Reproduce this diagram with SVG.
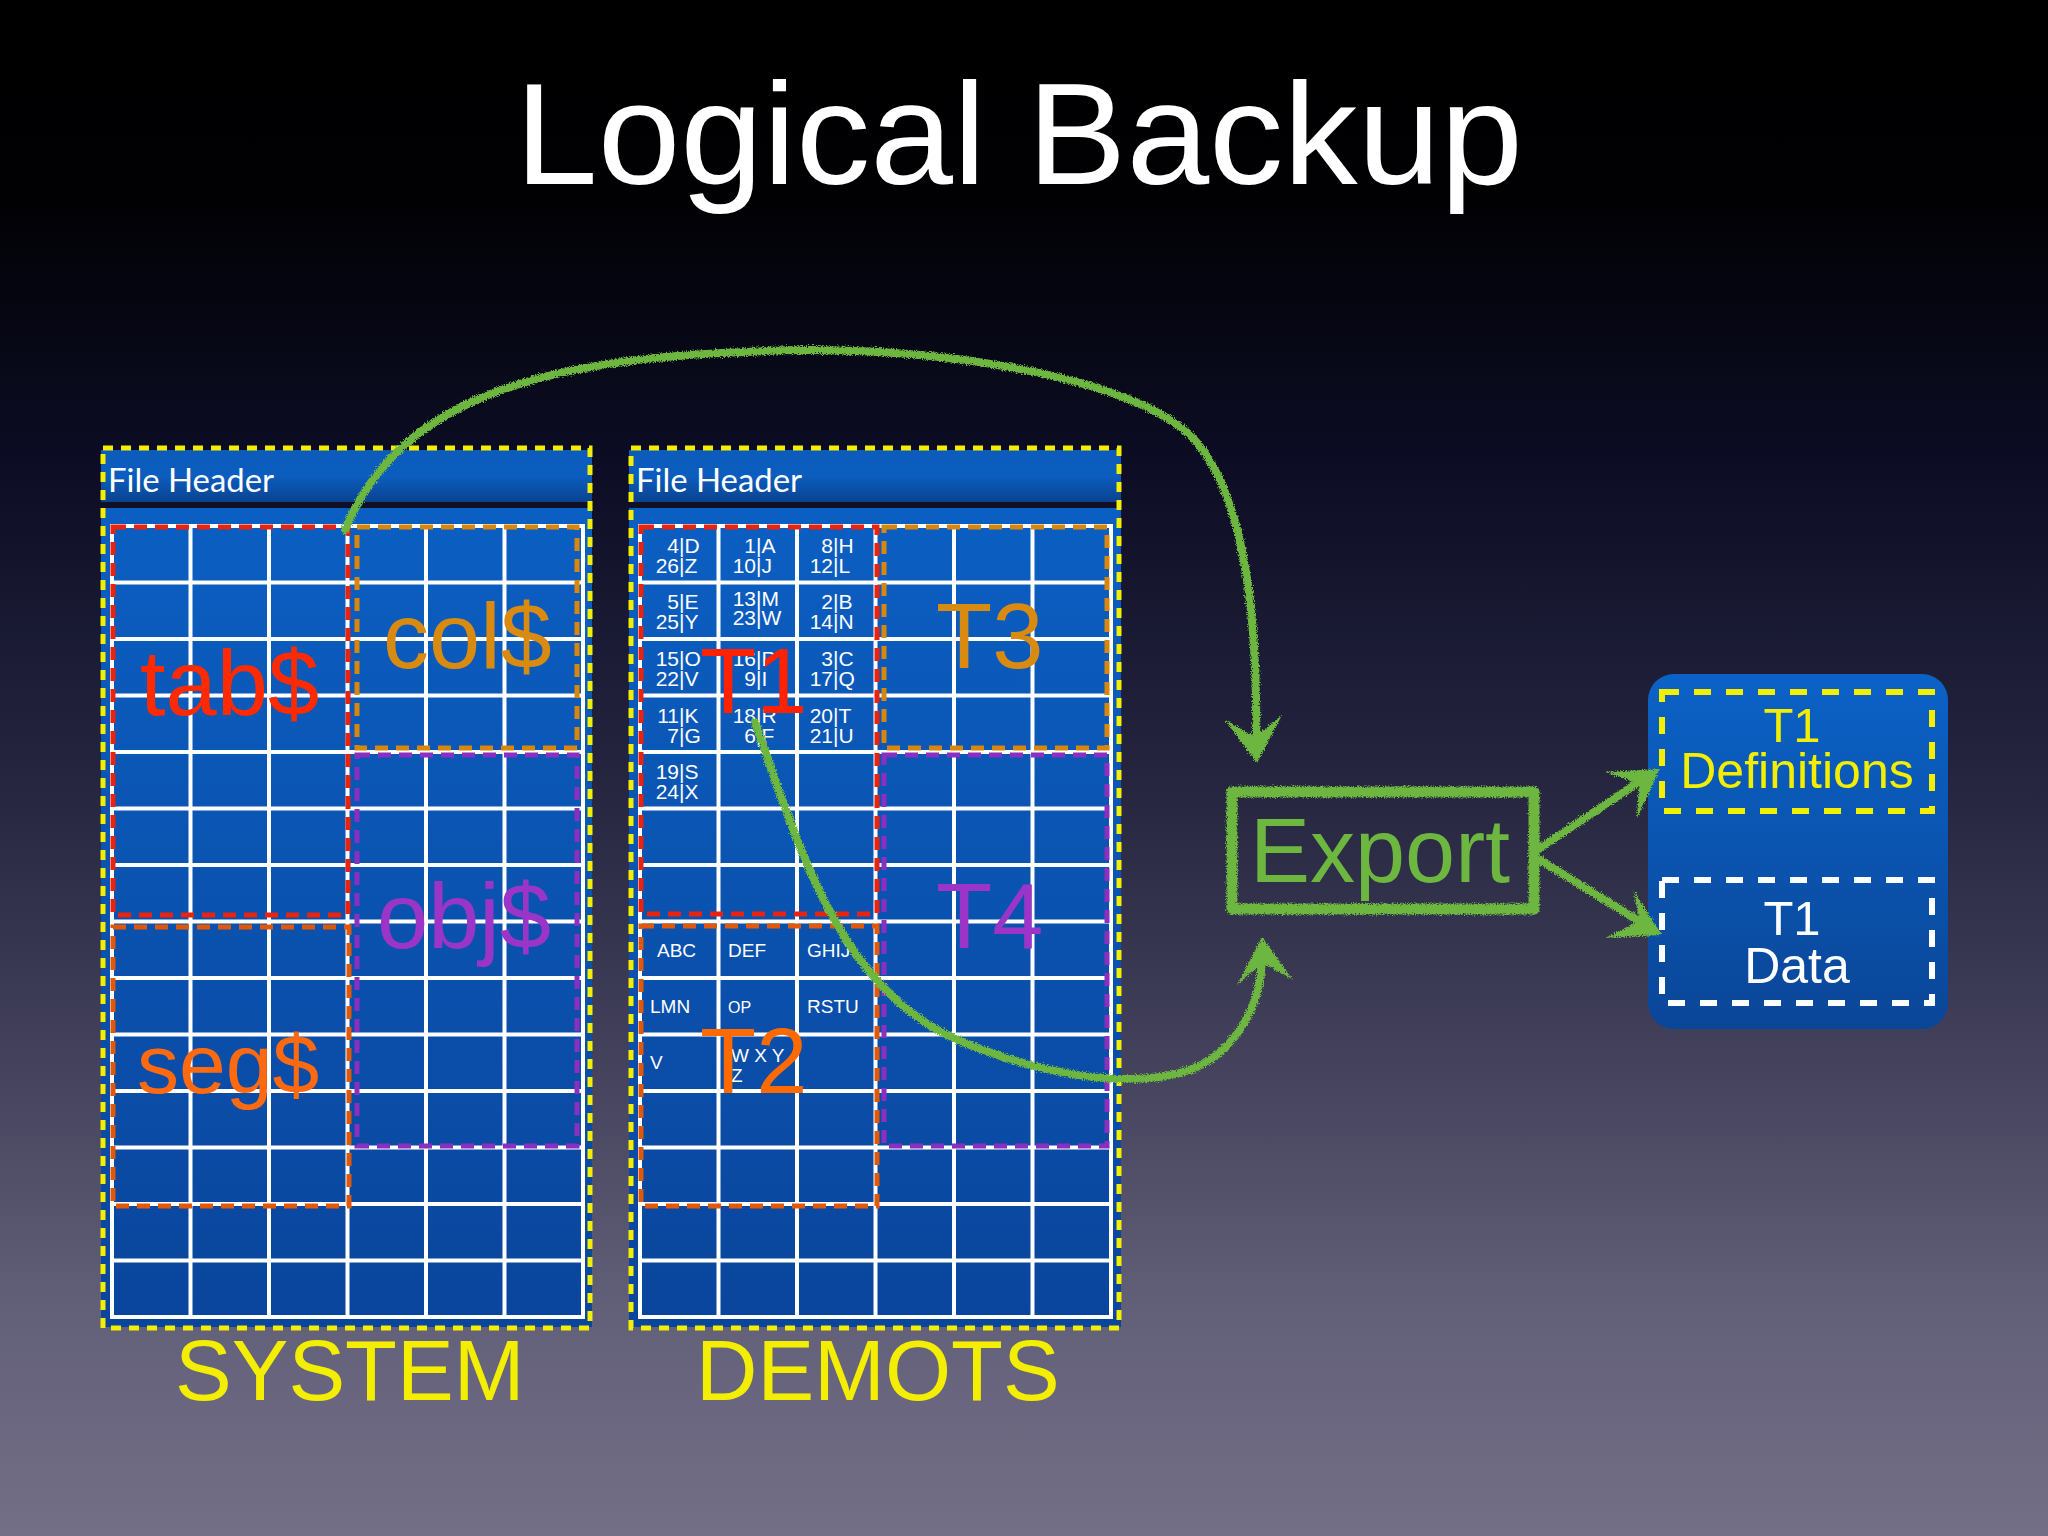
<svg xmlns="http://www.w3.org/2000/svg" width="2048" height="1536" viewBox="0 0 2048 1536">
<defs>
<linearGradient id="bg" x1="0" y1="0" x2="0" y2="1">
<stop offset="0" stop-color="#000000"/>
<stop offset="0.13" stop-color="#010104"/>
<stop offset="0.3" stop-color="#0c0d24"/>
<stop offset="0.5" stop-color="#24243f"/>
<stop offset="0.7" stop-color="#45435d"/>
<stop offset="0.85" stop-color="#625f78"/>
<stop offset="1" stop-color="#736f87"/>
</linearGradient>
<linearGradient id="hdr" x1="0" y1="0" x2="0" y2="1">
<stop offset="0" stop-color="#0b5cba"/>
<stop offset="0.5" stop-color="#0b5dbf"/>
<stop offset="1" stop-color="#0a4390"/>
</linearGradient>
<linearGradient id="body" x1="0" y1="0" x2="0" y2="1">
<stop offset="0" stop-color="#0b5fc2"/>
<stop offset="1" stop-color="#0a459c"/>
</linearGradient>
<linearGradient id="rp" x1="0" y1="0" x2="0" y2="1">
<stop offset="0" stop-color="#0b62c6"/>
<stop offset="1" stop-color="#0a4698"/>
</linearGradient>
<filter id="chalk" filterUnits="userSpaceOnUse" x="0" y="0" width="2048" height="1536">
<feTurbulence type="fractalNoise" baseFrequency="0.9" numOctaves="2" seed="3" result="n"/>
<feDisplacementMap in="SourceGraphic" in2="n" scale="6" xChannelSelector="R" yChannelSelector="G"/>
</filter>
<g id="grid" fill="none" stroke="#ffffff" stroke-width="4">
<rect x="112" y="526" width="471" height="791"/>
<path d="M190.5 526V1317M269 526V1317M347.5 526V1317M426 526V1317M504.5 526V1317
M112 582.5H583M112 639H583M112 695.5H583M112 752H583M112 808.5H583M112 865H583M112 921.5H583M112 978H583M112 1034.5H583M112 1091H583M112 1147.5H583M112 1204H583M112 1260.5H583"/>
</g>
</defs>
<style>
.sans{font-family:"Liberation Sans","Helvetica",Arial,sans-serif}
.hdrtxt{font-family:Lato,"Open Sans",sans-serif;font-size:32px;fill:#ffffff}
.big{font-family:"Liberation Sans",Arial,sans-serif;font-size:92px}
.sm{font-family:"Liberation Sans",Arial,sans-serif;font-size:21px;fill:#ffffff}
.sm2{font-family:"Liberation Sans",Arial,sans-serif;font-size:19px;fill:#ffffff}
.ybord{fill:none;stroke:#f4ee00;stroke-width:5;stroke-dasharray:10 8}
.dbox{fill:none;stroke-width:5;stroke-dasharray:13 8}
.red{stroke:#e8230f}
.org{stroke:#e0580a}
.gold{stroke:#d9860c}
.pur{stroke:#8a2fc0}
.chalk{fill:none;stroke:#6db63f;stroke-width:8;stroke-linecap:round;stroke-linejoin:round;filter:url(#chalk)}
.head{fill:#6db63f;filter:url(#chalk)}
</style>
<rect width="2048" height="1536" fill="url(#bg)"/>

<text class="sans" x="515" y="184" font-size="145" fill="#ffffff" textLength="1008" lengthAdjust="spacingAndGlyphs">Logical Backup</text>

<g id="system">
<rect x="101" y="450" width="491" height="52" fill="url(#hdr)"/>
<rect x="101" y="508" width="491" height="819" fill="url(#body)"/>
<text class="hdrtxt" x="108" y="492" textLength="166" lengthAdjust="spacingAndGlyphs">File Header</text>
<use href="#grid"/>
<rect class="dbox red" x="113" y="527" width="235" height="388"/>
<rect class="dbox org" x="113" y="927" width="236" height="279"/>
<rect class="dbox gold" x="357" y="527" width="220" height="221"/>
<rect class="dbox pur" x="357" y="755" width="220" height="391"/>
<text class="big" x="140" y="715" fill="#ff2a00">tab$</text>
<text class="big" x="383" y="668" fill="#d98a10">col$</text>
<text class="big" x="377" y="948" fill="#9b35c8">obj$</text>
<text class="big" x="137" y="1093" fill="#ff6a10" style="font-size:84px">seg$</text>
<rect class="ybord" x="103" y="448" width="487" height="880"/>
<text class="sans" x="175" y="1400" font-size="85" fill="#f4ee00">SYSTEM</text>
</g>

<g id="demots">
<rect x="629" y="450" width="492" height="52" fill="url(#hdr)"/>
<rect x="629" y="508" width="492" height="819" fill="url(#body)"/>
<text class="hdrtxt" x="636" y="492" textLength="166" lengthAdjust="spacingAndGlyphs">File Header</text>
<use href="#grid" transform="translate(528 0)"/>
<rect class="dbox red" x="641" y="527" width="236" height="387"/>
<rect class="dbox org" x="641" y="926" width="236" height="280"/>
<rect class="dbox gold" x="884" y="527" width="223" height="221"/>
<rect class="dbox pur" x="884" y="755" width="223" height="391"/>
<g id="t1cells">
<text class="sm" y="553"><tspan x="679" text-anchor="end">4</tspan><tspan x="679">|D</tspan></text>
<text class="sm" y="573"><tspan x="679" text-anchor="end">26</tspan><tspan x="679">|Z</tspan></text>
<text class="sm" y="553"><tspan x="756" text-anchor="end">1</tspan><tspan x="756">|A</tspan></text>
<text class="sm" y="573"><tspan x="756" text-anchor="end">10</tspan><tspan x="756">|J</tspan></text>
<text class="sm" y="553"><tspan x="833" text-anchor="end">8</tspan><tspan x="833">|H</tspan></text>
<text class="sm" y="573"><tspan x="833" text-anchor="end">12</tspan><tspan x="833">|L</tspan></text>
<text class="sm" y="609"><tspan x="679" text-anchor="end">5</tspan><tspan x="679">|E</tspan></text>
<text class="sm" y="629"><tspan x="679" text-anchor="end">25</tspan><tspan x="679">|Y</tspan></text>
<text class="sm" y="606"><tspan x="756" text-anchor="end">13</tspan><tspan x="756">|M</tspan></text>
<text class="sm" y="625"><tspan x="756" text-anchor="end">23</tspan><tspan x="756">|W</tspan></text>
<text class="sm" y="609"><tspan x="833" text-anchor="end">2</tspan><tspan x="833">|B</tspan></text>
<text class="sm" y="629"><tspan x="833" text-anchor="end">14</tspan><tspan x="833">|N</tspan></text>
<text class="sm" y="666"><tspan x="679" text-anchor="end">15</tspan><tspan x="679">|O</tspan></text>
<text class="sm" y="686"><tspan x="679" text-anchor="end">22</tspan><tspan x="679">|V</tspan></text>
<text class="sm" y="666"><tspan x="756" text-anchor="end">16</tspan><tspan x="756">|P</tspan></text>
<text class="sm" y="686"><tspan x="756" text-anchor="end">9</tspan><tspan x="756">|I</tspan></text>
<text class="sm" y="666"><tspan x="833" text-anchor="end">3</tspan><tspan x="833">|C</tspan></text>
<text class="sm" y="686"><tspan x="833" text-anchor="end">17</tspan><tspan x="833">|Q</tspan></text>
<text class="sm" y="723"><tspan x="679" text-anchor="end">11</tspan><tspan x="679">|K</tspan></text>
<text class="sm" y="743"><tspan x="679" text-anchor="end">7</tspan><tspan x="679">|G</tspan></text>
<text class="sm" y="723"><tspan x="756" text-anchor="end">18</tspan><tspan x="756">|R</tspan></text>
<text class="sm" y="743"><tspan x="756" text-anchor="end">6</tspan><tspan x="756">|F</tspan></text>
<text class="sm" y="723"><tspan x="833" text-anchor="end">20</tspan><tspan x="833">|T</tspan></text>
<text class="sm" y="743"><tspan x="833" text-anchor="end">21</tspan><tspan x="833">|U</tspan></text>
<text class="sm" y="779"><tspan x="679" text-anchor="end">19</tspan><tspan x="679">|S</tspan></text>
<text class="sm" y="799"><tspan x="679" text-anchor="end">24</tspan><tspan x="679">|X</tspan></text>
</g>
<g id="t2cells">
<text class="sm2" x="657" y="957">ABC</text>
<text class="sm2" x="728" y="957">DEF</text>
<text class="sm2" x="807" y="957">GHIJ</text>
<text class="sm2" x="650" y="1013">LMN</text>
<text class="sm2" x="728" y="1013" style="font-size:16px">OP</text>
<text class="sm2" x="807" y="1013">RSTU</text>
<text class="sm2" x="650" y="1069">V</text>
<text class="sm2" x="731" y="1062">W X Y</text>
<text class="sm2" x="731" y="1082">Z</text>
</g>
<text class="big" x="700" y="713" fill="#ff2200">T1</text>
<text class="big" x="936" y="668" fill="#d98a10">T3</text>
<text class="big" x="936" y="948" fill="#9b35c8">T4</text>
<text class="big" x="700" y="1093" fill="#ff6a00">T2</text>
<rect class="ybord" x="631" y="448" width="488" height="880"/>
<text class="sans" x="696" y="1400" font-size="85" fill="#f4ee00">DEMOTS</text>
</g>

<g id="export">
<rect class="chalk" x="1232" y="792" width="302" height="117" stroke-width="11" style="stroke-width:11px"/>
<text class="sans" x="1250" y="882" font-size="90" fill="#6db63f">Export</text>
</g>

<g id="output">
<rect x="1648" y="674" width="300" height="355" rx="26" fill="url(#rp)"/>
<rect x="1662" y="692" width="270" height="119" fill="none" stroke="#f4ee00" stroke-width="6" stroke-dasharray="17 15"/>
<text class="sans" x="1792" y="742" font-size="49" fill="#f4ee00" text-anchor="middle">T1</text>
<text class="sans" x="1797" y="788" font-size="50" fill="#f4ee00" text-anchor="middle">Definitions</text>
<rect x="1662" y="880" width="270" height="123" fill="none" stroke="#ffffff" stroke-width="6" stroke-dasharray="17 15"/>
<text class="sans" x="1792" y="935" font-size="49" fill="#ffffff" text-anchor="middle">T1</text>
<text class="sans" x="1797" y="983" font-size="50" fill="#ffffff" text-anchor="middle">Data</text>
</g>

<g id="connectors">
<path class="chalk" d="M345,530 C390,420 500,360 746,352 C900,342 1120,370 1190,435 C1245,490 1258,620 1256,745"/>
<polygon class="head" points="1257,763 1225,720 1255,737 1282,715"/>
<path class="chalk" d="M755,722 C800,850 840,990 958,1040 C1040,1075 1130,1090 1190,1070 C1240,1050 1262,1000 1262,955"/>
<polygon class="head" points="1262,937 1293,980 1263,963 1237,985"/>
<path class="chalk" d="M1540,848 L1645,778"/>
<polygon class="head" points="1660,769 1637,818 1639,784 1605,772"/>
<path class="chalk" d="M1540,860 L1647,926"/>
<polygon class="head" points="1662,935 1605,938 1640,921 1633,890"/>
</g>
</svg>
